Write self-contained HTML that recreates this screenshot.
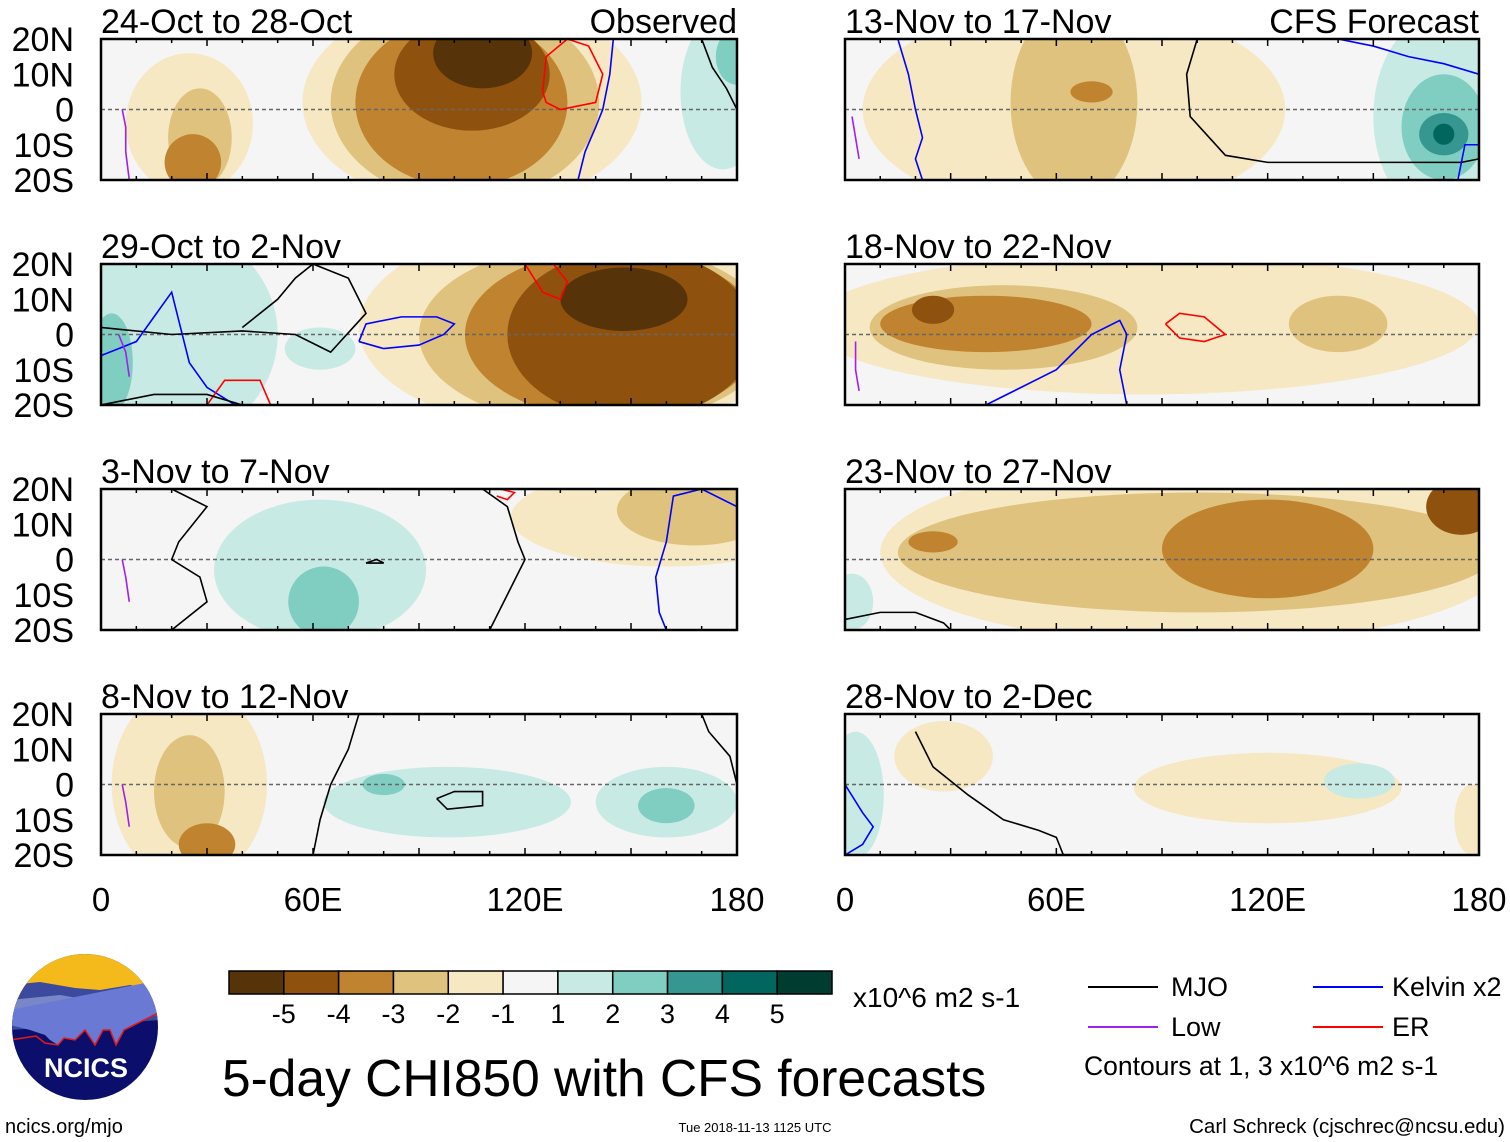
<!DOCTYPE html>
<html><head><meta charset="utf-8"><style>
body{margin:0;background:#fff;width:1510px;height:1142px;overflow:hidden;font-family:"Liberation Sans",sans-serif}
svg{display:block}
text{font-family:"Liberation Sans",sans-serif}
</style></head><body>
<svg id="chart" width="1510" height="1142" viewBox="0 0 1510 1142">
<defs id="defs"></defs>
<g id="panels"></g>
<g id="legendarea">
  <g>
    <clipPath id="logoclip"><circle cx="85" cy="1027" r="73"/></clipPath>
    <g clip-path="url(#logoclip)">
      <rect x="10" y="950" width="150" height="160" fill="#0b0f6b"/>
      <rect x="10" y="950" width="150" height="40" fill="#f4b91a"/>
      <path d="M10 985 L40 982 L75 988 L100 990 L130 985 L160 990 L160 1020 L10 1030Z" fill="#3c4a9e"/>
      <path d="M10 1000 L60 995 L100 1002 L160 995 L160 1015 L10 1025Z" fill="#7a86c8"/>
      <path d="M20 1010 L80 1005 L110 1015 L60 1025 L20 1025Z" fill="#a9b2e3"/>
      <path d="M10 1025 L30 1030 L45 1035 L50 1040 L58 1045 L64 1038 L75 1040 L85 1030 L95 1045 L103 1030 L110 1030 L116 1045 L124 1030 L160 1012 L160 980 L10 1010Z" fill="#6a79d4"/>
      <path d="M10 1040 L36 1036 L45 1043 L58 1045 L64 1038 L75 1040 L85 1030 L95 1045 L103 1030 L110 1030 L116 1045 L124 1030 L160 1012" fill="none" stroke="#e01b1b" stroke-width="1.5"/>
    </g>
    <text x="86" y="1077" text-anchor="middle" font-size="27" font-weight="bold" fill="#fff">NCICS</text>
  </g>
  <text x="5" y="1133" font-size="20">ncics.org/mjo</text>
  <g id="colorbar"></g>
  <text x="853" y="1007" font-size="28">x10^6 m2 s-1</text>
  <text x="222" y="1096" font-size="51.5">5-day CHI850 with CFS forecasts</text>
  <text x="755" y="1132" font-size="13" text-anchor="middle">Tue 2018-11-13 1125 UTC</text>
  <text x="1505" y="1133" font-size="20.5" text-anchor="end">Carl Schreck (cjschrec@ncsu.edu)</text>
  <g><line x1="1088" y1="987" x2="1158" y2="987" stroke="#000" stroke-width="2"/><text x="1171" y="996" font-size="27">MJO</text></g>
  <g><line x1="1313" y1="987" x2="1383" y2="987" stroke="#0000ff" stroke-width="2"/><text x="1392" y="996" font-size="27">Kelvin x2</text></g>
  <g><line x1="1088" y1="1027" x2="1158" y2="1027" stroke="#a020f0" stroke-width="2"/><text x="1171" y="1036" font-size="27">Low</text></g>
  <g><line x1="1313" y1="1027" x2="1383" y2="1027" stroke="#ff0000" stroke-width="2"/><text x="1392" y="1036" font-size="27">ER</text></g>
  <text x="1084" y="1075" font-size="26.5">Contours at 1, 3 x10^6 m2 s-1</text>
</g>
</svg>
<script>
// colour levels
const levelValues = [-5,-4,-3,-2,-1,0,1,2,3,4,5];
const levelColors = ["#573309","#8e520e","#c0832f","#dfc27d","#f6e8c3","#f5f5f5","#c7eae5","#80cdc1","#35978f","#01665e","#003c30"];
const cbLabels = ["-5","-4","-3","-2","-1","1","2","3","4","5"];
const latTicks = ["20N","10N","0","10S","20S"];
const lonTickVals = [0,60,120,180];
const lonTickLabels = ["0","60E","120E","180"];
const panelTitles = ["24-Oct to 28-Oct","29-Oct to 2-Nov","3-Nov to 7-Nov","8-Nov to 12-Nov","13-Nov to 17-Nov","18-Nov to 22-Nov","23-Nov to 27-Nov","28-Nov to 2-Dec"];
// anomaly blobs per panel: [lon, lat, rxDeg, ryDeg, level]
const blobs0 = [[25,-4,18,20,-1],[28,-8,9,14,-2],[26,-15,8,8,-3],[105,2,48,30,-1],[103,2,38,28,-2],[102,2,30,24,-3],[105,10,22,16,-4],[108,16,14,10,-5],[176,5,12,22,1],[180,15,6,8,2]];
const blobs1 = [[20,0,30,30,1],[3,-8,6,14,2],[62,-4,10,6,1],[135,2,62,30,-1],[140,0,50,26,-2],[145,0,42,24,-3],[150,0,35,24,-4],[148,10,18,9,-5]];
const blobs2 = [[62,-3,30,20,1],[63,-12,10,10,2],[160,12,44,14,-1],[168,14,22,10,-2]];
const blobs3 = [[25,0,22,28,-1],[25,-2,10,16,-2],[30,-17,8,6,-3],[98,-5,35,10,1],[80,0,6,3,2],[160,-5,20,10,1],[160,-6,8,5,2]];
const blobs4 = [[65,0,60,30,-1],[65,2,18,28,-2],[70,5,6,3,-3],[168,-2,18,28,1],[170,-5,12,15,2],[170,-7,7,6,3],[170,-7,3,3,4]];
const blobs5 = [[85,3,95,20,-1],[45,2,38,12,-2],[40,3,30,8,-3],[25,7,6,4,-4],[140,3,14,8,-2]];
const blobs6 = [[100,2,90,26,-1],[100,2,85,17,-2],[25,5,7,3,-3],[120,3,30,14,-3],[175,15,10,8,-4],[2,-12,6,8,1]];
const blobs7 = [[28,8,14,10,-1],[120,-1,38,10,-1],[178,-10,5,10,-1],[3,-3,8,18,1],[146,1,10,5,1]];
const allBlobs = [blobs0,blobs1,blobs2,blobs3,blobs4,blobs5,blobs6,blobs7];
// contour lines per panel: [type, lons, lats]
const lines0 = [["er",[125,126,130,140,142,138,132,126,125],[5,2,0,2,10,18,20,15,5]],["kelvin",[145,144,142,140,137,135],[20,10,0,-5,-12,-20]],["mjo",[170,173,177,180],[20,12,6,0]],["low",[6,7,7,8],[0,-5,-12,-20]]];
const lines1 = [["mjo",[0,20,40,55,65,75,70,60,55,50,45,40],[2,0,1,0,-5,6,16,20,16,10,6,2]],["kelvin",[73,80,90,97,100,95,85,75,73],[-2,-4,-3,0,3,5,5,3,-2]],["kelvin",[0,10,15,20,25,30,38],[-6,-2,5,12,-8,-15,-20]],["er",[30,35,45,48],[-20,-13,-13,-20]],["er",[120,125,130,132,128,120],[20,12,10,15,20,20]],["low",[5,7,8],[0,-5,-12]],["mjo",[0,15,30,40],[-20,-17,-17,-20]]];
const lines2 = [["mjo",[20,30,22,20,28,30,20],[20,15,5,0,-5,-12,-20]],["mjo",[75,80,78,75],[-1,-1,0,-1]],["mjo",[108,115,118,120,115,110],[20,15,5,0,-10,-20]],["kelvin",[180,170,162,160,157,158,160],[15,20,18,5,-5,-15,-20]],["er",[112,115,117,113],[18,17,19,20]],["low",[6,7,8],[0,-5,-12]]];
const lines3 = [["mjo",[73,70,65,62,60],[20,10,0,-10,-20]],["mjo",[95,100,108,108,98,95],[-4,-2,-2,-6,-7,-4]],["mjo",[170,172,178,180],[20,15,8,0]],["low",[6,7,8],[0,-5,-12]]];
const lines4 = [["kelvin",[15,18,20,22,20,22],[20,10,0,-8,-14,-20]],["mjo",[100,97,98,108,120,140,160,175,180],[20,10,-2,-13,-15,-15,-15,-15,-14]],["kelvin",[140,150,160,170,180],[20,18,15,13,10]],["kelvin",[180,176,174],[-10,-10,-20]],["low",[2,3,4],[-2,-8,-14]]];
const lines5 = [["kelvin",[40,50,60,70,78,80,78,80],[-20,-15,-10,0,4,0,-10,-20]],["er",[91,95,102,108,102,95,91],[3,6,5,0,-2,-1,3]],["low",[3,3,4],[-2,-10,-16]]];
const lines6 = [["mjo",[0,10,20,28,30],[-17,-15,-15,-18,-20]]];
const lines7 = [["mjo",[20,25,35,45,55,60,62],[15,5,-3,-10,-13,-15,-20]],["kelvin",[0,5,8,5,0],[0,-8,-12,-17,-20]]];
const allLines = [lines0,lines1,lines2,lines3,lines4,lines5,lines6,lines7];

const NS="http://www.w3.org/2000/svg";
const panelsG=document.getElementById('panels');
const defs=document.getElementById('defs');
const colX=[101,845], colW=[636,634], rowY=[39,264,489,714], PH=141;
const lineColors={mjo:"#000",kelvin:"#0000ff",er:"#ff0000",low:"#a020f0"};
function mk(tag,attrs,parent){const e=document.createElementNS(NS,tag);for(const k in attrs)e.setAttribute(k,attrs[k]);parent.appendChild(e);return e;}
function levelColor(v){return levelColors[levelValues.indexOf(v)];}

for(let p=0;p<8;p++){
  const col=p<4?0:1,row=p%4;
  const x0=colX[col],w=colW[col],y0=rowY[row];
  const xs=lon=>x0+lon*w/180, ys=lat=>y0+(20-lat)*PH/40;
  const g=mk('g',{},panelsG);
  
  
  const cp=mk('clipPath',{id:'clip'+p},defs);
  mk('rect',{x:x0,y:y0,width:w,height:PH},cp);
  const inner=mk('g',{'clip-path':'url(#clip'+p+')'},g);
  mk('rect',{x:x0,y:y0,width:w,height:PH,fill:levelColors[5]},inner);
  const sorted=allBlobs[p].slice().sort((a,b)=>Math.abs(a[4])-Math.abs(b[4]));
  sorted.forEach(b=>{
    const e=mk('ellipse',{cx:xs(b[0]),cy:ys(b[1]),rx:b[2]*w/180,ry:b[3]*PH/40,fill:levelColor(b[4])},inner);
    
    
  });
  const eq=mk('line',{x1:x0,x2:x0+w,y1:ys(0),y2:ys(0),stroke:'#666','stroke-width':1.5,'stroke-dasharray':'4,3'},inner);
  
  
  allLines[p].forEach(l=>{
    const pts=l[1].map((lo,i)=>xs(lo)+','+ys(l[2][i])).join(' ');
    const e=mk('polyline',{points:pts,fill:'none',stroke:lineColors[l[0]],'stroke-width':1.6},inner);
    
    
  });
  const fr=mk('rect',{x:x0,y:y0,width:w,height:PH,fill:'none',stroke:'#000','stroke-width':2.5},g);
  
  
  for(let lo=0;lo<=180;lo+=10){const L=lo%30==0?7:4;mk('line',{x1:xs(lo),x2:xs(lo),y1:y0,y2:y0+L,stroke:'#000','stroke-width':1.5},g);mk('line',{x1:xs(lo),x2:xs(lo),y1:y0+PH,y2:y0+PH-L,stroke:'#000','stroke-width':1.5},g);}
  const t=mk('text',{x:x0,y:y0-6,'font-size':34},g);
  t.textContent=panelTitles[p];
  
  
  if(p==0||p==4){const t2=mk('text',{x:x0+w,y:y0-6,'font-size':34,'text-anchor':'end'},g);t2.textContent=p==0?'Observed':'CFS Forecast';
    
    }
  if(col==0){latTicks.forEach((s,i)=>{const tt=mk('text',{x:74,y:y0+i*PH/4+12,'font-size':34,'text-anchor':'end'},g);tt.textContent=s;
    
    });}
  if(row==3){lonTickVals.forEach((v,i)=>{const tt=mk('text',{x:xs(v),y:911,'font-size':33,'text-anchor':'middle'},g);tt.textContent=lonTickLabels[i];
    
    });}
}
// colorbar
const cb=document.getElementById('colorbar');
const cbX=229,cbW=603,cbN=levelColors.length,bw=cbW/cbN;
levelColors.forEach((c,i)=>{const r=mk('rect',{x:cbX+i*bw,y:971,width:bw,height:23,fill:c,stroke:'#000','stroke-width':1.5},cb);
  
  });
cbLabels.forEach((s,i)=>{const t=mk('text',{x:cbX+(i+1)*bw,y:1023,'font-size':27,'text-anchor':'middle'},cb);t.textContent=s;
  
  });
</script>
</body></html>
